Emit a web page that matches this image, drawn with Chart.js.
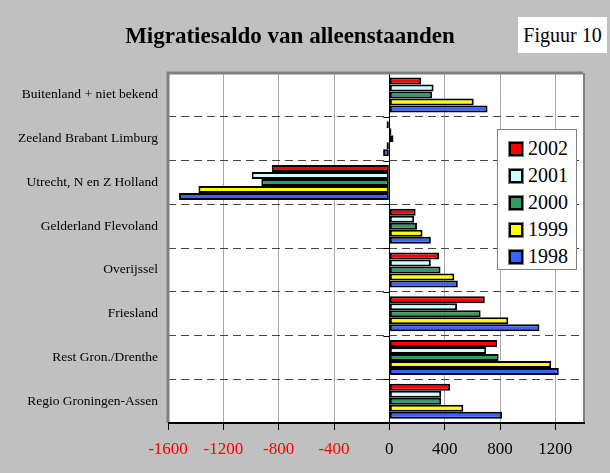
<!DOCTYPE html>
<html>
<head>
<meta charset="utf-8">
<script src="https://cdn.jsdelivr.net/npm/chart.js@4.4.0/dist/chart.umd.min.js"></script>
<style>
  html, body { margin: 0; padding: 0; background: #c0c0c0; }
  #wrap { position: relative; width: 610px; height: 473px; }
  #title { position: absolute; left: 0; top: 22px; width: 580px; text-align: center;
    font: bold 23px "Liberation Serif", serif; line-height: 27px; color: #000; }
  #fig { position: absolute; left: 518px; top: 17px; width: 89px; height: 36px; background: #fff;
    font: 20px "Liberation Serif", serif; line-height: 36px; text-align: center; color: #000; }
  #legend { position: absolute; left: 497px; top: 129px; width: 80px; height: 141px; background: #fff;
    border: 1px solid #808080; padding-top: 5px; box-sizing: border-box; }
  .item { position: relative; height: 27px; font: 20px "Liberation Serif", serif; line-height: 27px; color: #000; }
  .sw { position: absolute; left: 11px; top: 7px; width: 10px; height: 10px; border: 2px solid #000;
    outline: 1px solid #808080; }
  .item span { position: absolute; left: 30px; top: 0; }
</style>
</head>
<body>
<div id="wrap">
  <canvas id="c" width="610" height="473"></canvas>
  <div id="title">Migratiesaldo van alleenstaanden</div>
  <div id="fig">Figuur 10</div>
  <div id="legend"></div>
</div>
<script>
// categories, top to bottom
const categories = [
  'Buitenland + niet bekend',
  'Zeeland Brabant Limburg',
  'Utrecht, N en Z Holland',
  'Gelderland Flevoland',
  'Overijssel',
  'Friesland',
  'Rest Gron./Drenthe',
  'Regio Groningen-Assen'
];

const years = ['2002', '2001', '2000', '1999', '1998'];
const colors = ['#ff0000', '#ccffff', '#339966', '#ffff00', '#3366ff'];

const y2002 = [230, -20, -850, 190, 360, 690, 780, 440];
const y2001 = [320, 15, -995, 180, 300, 490, 700, 375];
const y2000 = [310, 30, -925, 200, 370, 660, 790, 375];
const y1999 = [610, -20, -1380, 240, 470, 860, 1170, 535];
const y1998 = [710, -45, -1520, 300, 495, 1085, 1225, 815];

const xTicks = [-1600, -1200, -800, -400, 0, 400, 800, 1200];

const values = [y2002, y2001, y2000, y1999, y1998];

// plot area: white fill, frame, zero axis with small ticks
const plotFrame = {
  id: 'plotFrame',
  beforeDraw(chart) {
    const { ctx, chartArea: a } = chart;
    ctx.save();
    ctx.fillStyle = '#c0c0c0';
    ctx.fillRect(0, 0, chart.width, chart.height);
    ctx.fillStyle = '#fff';
    ctx.fillRect(a.left, a.top, a.right - a.left, a.bottom - a.top);
    ctx.restore();
  },
  beforeDatasetsDraw(chart) {
    const { ctx, chartArea: a, scales } = chart;
    const x0 = scales.x.getPixelForValue(0);
    ctx.save();
    ctx.strokeStyle = '#000';
    ctx.lineWidth = 1;
    ctx.beginPath();
    ctx.moveTo(Math.round(x0) + 0.5, a.top);
    ctx.lineTo(Math.round(x0) + 0.5, a.bottom);
    const n = categories.length;
    for (let i = 1; i < n; i++) {
      const y = Math.round(a.top + i * (a.bottom - a.top) / n) + 0.5;
      ctx.moveTo(x0 - 6, y);
      ctx.lineTo(x0, y);
    }
    ctx.stroke();
    ctx.restore();
  },
  afterDraw(chart) {
    const { ctx, chartArea: a } = chart;
    ctx.save();
    ctx.strokeStyle = '#808080';
    ctx.lineWidth = 3;
    ctx.beginPath();
    ctx.moveTo(a.left, a.bottom);
    ctx.lineTo(a.left, a.top);
    ctx.lineTo(a.right, a.top);
    ctx.stroke();
    ctx.lineWidth = 2;
    ctx.beginPath();
    ctx.moveTo(a.right + 1, a.top);
    ctx.lineTo(a.right + 1, a.bottom);
    ctx.stroke();
    ctx.strokeStyle = '#000';
    ctx.lineWidth = 2;
    ctx.beginPath();
    ctx.moveTo(a.left, a.bottom);
    ctx.lineTo(a.right + 2, a.bottom);
    ctx.stroke();
    ctx.restore();
  }
};

const chart = new Chart(document.getElementById('c'), {
  type: 'bar',
  data: {
    labels: categories,
    datasets: years.map((yr, i) => ({
      label: yr,
      data: values[i],
      backgroundColor: colors[i],
      borderColor: '#000',
      borderWidth: 2,
      borderSkipped: false,
      categoryPercentage: 0.8,
      barPercentage: 1.0
    }))
  },
  options: {
    indexAxis: 'y',
    responsive: false,
    animation: false,
    layout: { padding: { top: 73, right: 27, left: 0, bottom: 0 } },
    plugins: {
      legend: { display: false },
      tooltip: { enabled: false }
    },
    scales: {
      x: {
        min: -1600,
        max: 1400,
        afterBuildTicks: s => { s.ticks = xTicks.map(v => ({ value: v })); },
        afterFit: s => { s.height = 50; },
        ticks: {
          callback: v => String(v),
          color: c => (c.tick && c.tick.value < 0 ? '#ff0000' : '#000'),
          font: { family: 'Liberation Serif', size: 17 },
          padding: 9,
          maxRotation: 0
        },
        grid: {
          color: '#a8a8a8',
          tickColor: '#000',
          tickLength: 7
        },
        border: { display: false }
      },
      y: {
        afterFit: s => { s.width = 168; },
        ticks: {
          color: '#000',
          font: { family: 'Liberation Serif', size: 13.5 },
          padding: 10
        },
        grid: {
          color: '#444',
          drawTicks: false
        },
        border: { display: false, dash: [8, 5] }
      }
    }
  },
  plugins: [plotFrame]
});

// legend built from the chart's datasets
const legend = document.getElementById('legend');
chart.data.datasets.forEach(ds => {
  const row = document.createElement('div');
  row.className = 'item';
  const sw = document.createElement('div');
  sw.className = 'sw';
  sw.style.background = ds.backgroundColor;
  const t = document.createElement('span');
  t.textContent = ds.label;
  row.appendChild(sw);
  row.appendChild(t);
  legend.appendChild(row);
});
</script>
</body>
</html>
